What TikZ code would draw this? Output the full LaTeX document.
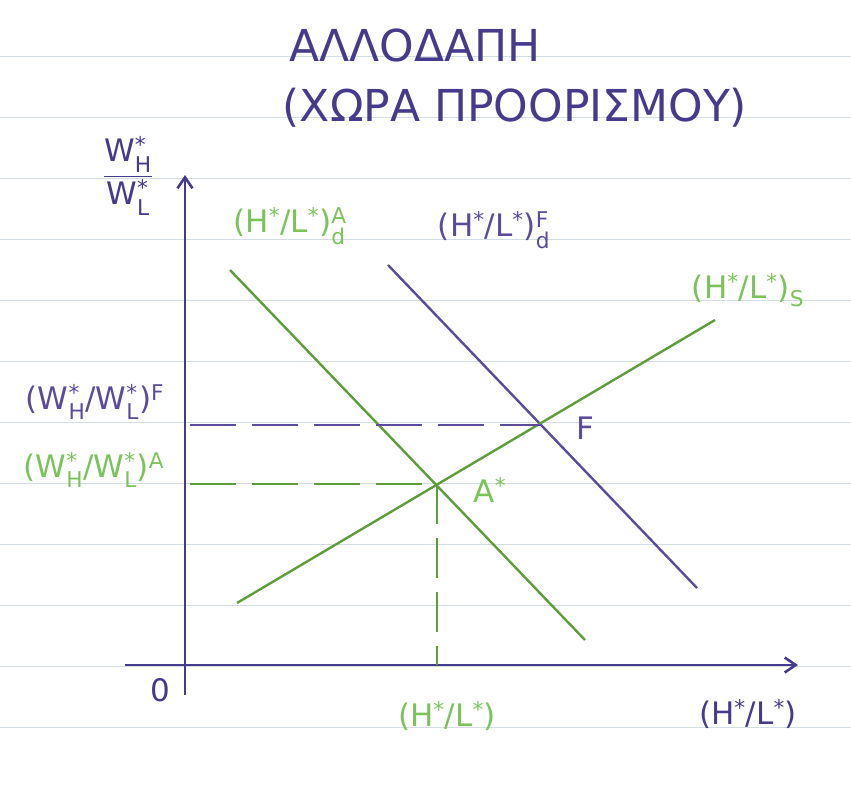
\documentclass[tikz,border=0pt]{standalone}
\usepackage{amsmath}
\usepackage{fontspec}
\setmainfont{DejaVu Sans}
\usetikzlibrary{arrows.meta}
\definecolor{inkpurple}{HTML}{463A8C}
\definecolor{inkviolet}{HTML}{5C4A9A}
\definecolor{inkgreen}{HTML}{5E9C3C}
\definecolor{inklight}{HTML}{7CC25A}
\definecolor{ruled}{HTML}{D3DDE6}
\newcommand{\supsub}[2]{\(^{\text{#1}}_{\text{#2}}\)}
\newcommand{\ratio}{(H\(^{\text{*}}\)/L\(^{\text{*}}\))}
\newcommand{\wage}[1]{W\supsub{*}{#1}}

\begin{document}
\begin{tikzpicture}[
x=1pt, y=-1pt,
axis/.style={-{Straight Barb[length=11pt,width=15pt]}, line width=2.6pt, inkpurple},
curve/.style={line width=2.4pt},
guide/.style={line width=2.4pt, dash pattern=on 46pt off 16pt},
lbl/.style={inner sep=0pt, font=\fontsize{31}{34}\selectfont},
headline/.style={inner sep=0pt, text=inkpurple, font=\fontsize{44}{46}\selectfont}
]
\useasboundingbox (0,0) rectangle (851,787);

% --- Ruled paper ---
\foreach \row in {56,117,...,800}
  \draw [ruled, line width=0.8pt] (0,\row) -- (851,\row);

% --- Title ---
\node (title) [headline] at (415,45) {ΑΛΛΟΔΑΠΗ};
\node (subtitle) [headline] at (515,108) {(ΧΩΡΑ ΠΡΟΟΡΙΣΜΟΥ)};

% --- Axes ---
\coordinate (ybot) at (185,695);
\coordinate (ytop) at (185,175);
\coordinate (xleft) at (125,665);
\coordinate (xright) at (798,665);
\draw [axis] (ybot) -- (ytop);
\draw [axis] (xleft) -- (xright);
\node (origin) [lbl, text=inkpurple] at (160,690) {0};
\node (ylabel) [lbl, text=inkpurple] at (128,176)
  {$\dfrac{\text{\wage{H}}}{\text{\wage{L}}}$};
\node (xlabel) [lbl, text=inkpurple] at (748,714) {\ratio};

% --- Curves ---
\coordinate (dAtop) at (230,270);
\coordinate (dAbot) at (585,640);
\coordinate (dFtop) at (388,265);
\coordinate (dFbot) at (697,588);
\coordinate (sbot) at (237,603);
\coordinate (stop) at (715,320);
\draw [curve, inkgreen] (dAtop) -- (dAbot);
\draw [curve, inkviolet] (dFtop) -- (dFbot);
\draw [curve, inkgreen] (sbot) -- (stop);

\node (lblA) [lbl, text=inklight] at (290,226) {\ratio\supsub{A}{d}};
\node (lblF) [lbl, text=inkviolet] at (494,230) {\ratio\supsub{F}{d}};
\node (lblS) [lbl, text=inklight] at (748,290) {\ratio\(_{\text{S}}\)};

% --- Equilibria ---
\coordinate (eqF) at (541,425);
\coordinate (eqA) at (437,484);
\coordinate (wF) at (190,425);
\coordinate (wA) at (190,484);
\coordinate (qA) at (437,665);
\draw [guide, inkviolet] (wF) -- (eqF);
\draw [guide, inkgreen] (wA) -- (eqA);
\draw [guide, inkgreen, dash pattern=on 40pt off 14pt] (eqA) -- (qA);

\node (ptF) [lbl, text=inkviolet] at (585,428) {F};
\node (ptA) [lbl, text=inklight] at (490,490) {A\(^{\text{*}}\)};
\node (wageF) [lbl, text=inkviolet] at (95,402) {(\wage{H}/\wage{L})\(^{\text{F}}\)};
\node (wageA) [lbl, text=inklight] at (94,470) {(\wage{H}/\wage{L})\(^{\text{A}}\)};
\node (qlabel) [lbl, text=inklight] at (447,716) {\ratio};

\end{tikzpicture}
\end{document}
